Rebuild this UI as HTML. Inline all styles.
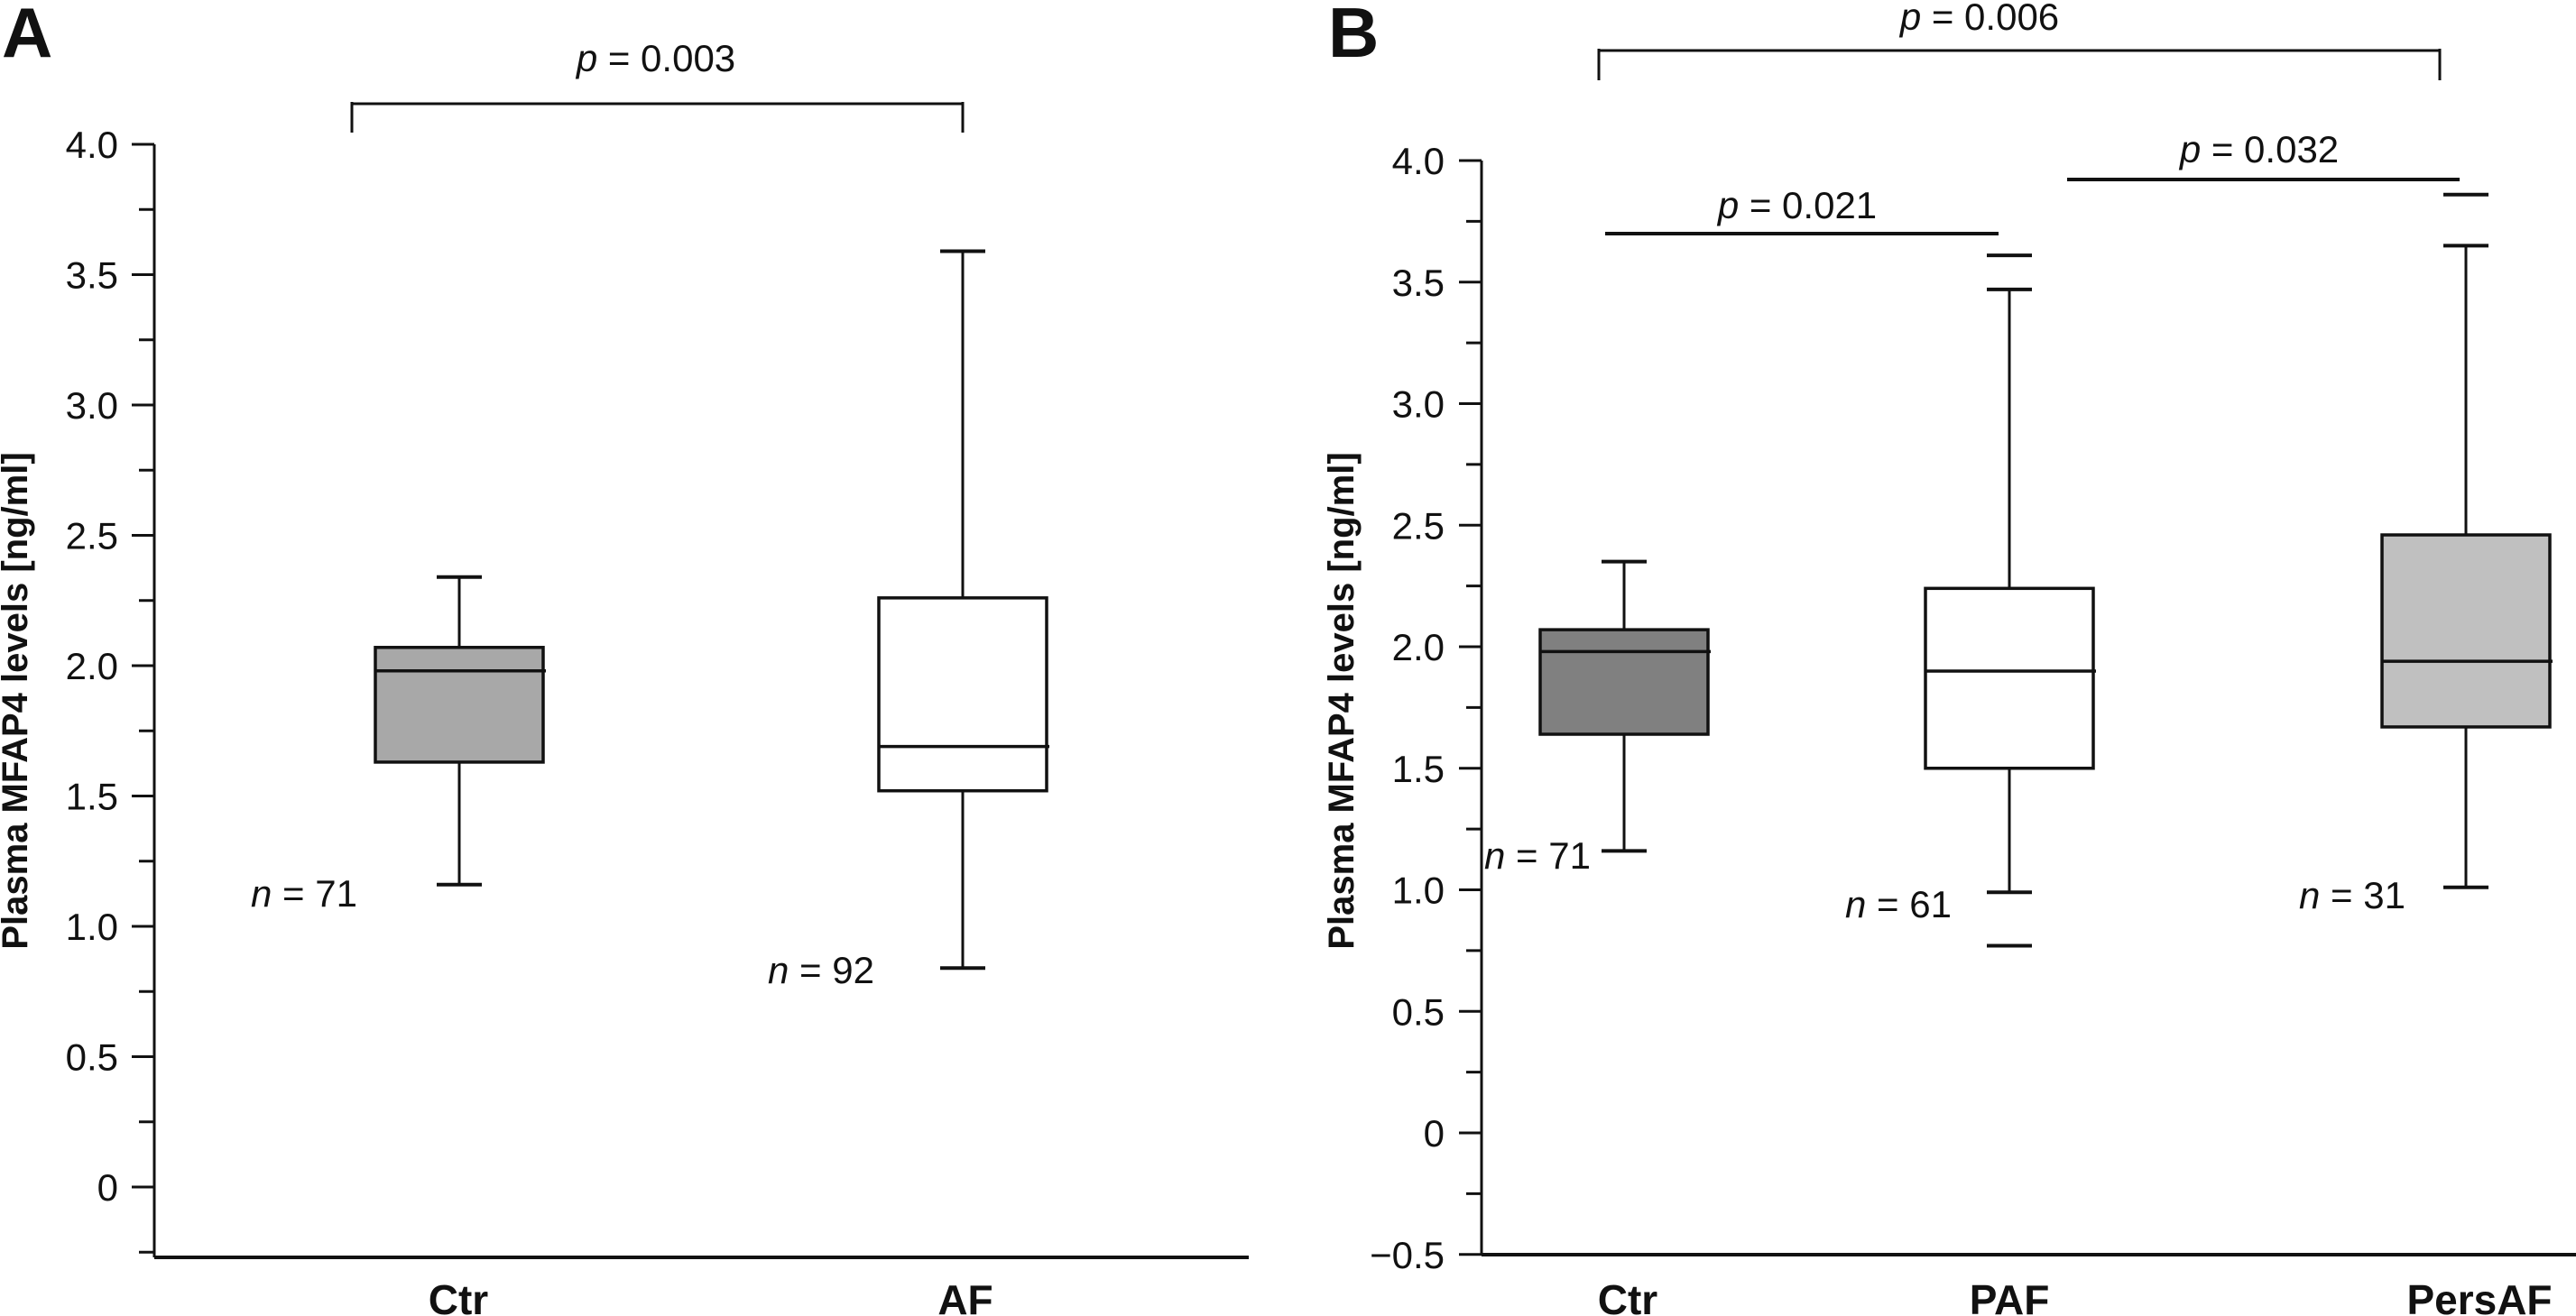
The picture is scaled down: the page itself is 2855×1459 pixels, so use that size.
<!DOCTYPE html>
<html><head><meta charset="utf-8"><style>
html,body{margin:0;padding:0;background:#fff}
svg{display:block}
text{font-family:"Liberation Sans",sans-serif;fill:#111}
</style></head><body>
<svg id="c" width="2855" height="1459" viewBox="0 0 2855 1459" xmlns="http://www.w3.org/2000/svg"></svg>
<script>
const catsA=["Ctr","AF"];
const minA=[1.16,0.84];
const q1A=[1.63,1.52];
const medA=[1.98,1.69];
const q3A=[2.07,2.26];
const maxA=[2.34,3.59];
const nA=["71","92"];
const fillA=["#a8a8a8","#ffffff"];
const catsB=["Ctr","PAF","PersAF"];
const minB=[1.16,0.99,1.01];
const q1B=[1.64,1.50,1.67];
const medB=[1.98,1.90,1.94];
const q3B=[2.07,2.24,2.46];
const maxB=[2.35,3.47,3.65];
const outB=[[],[0.77,3.61],[3.86]];
const nB=["71","61","31"];
const fillB=["#808080","#ffffff","#c0c0c0"];
const ticksA=[0,0.5,1.0,1.5,2.0,2.5,3.0,3.5,4.0];
const ticksB=[-0.5,0,0.5,1.0,1.5,2.0,2.5,3.0,3.5,4.0];

const svg=document.getElementById('c');
const NS="http://www.w3.org/2000/svg";
function el(t,a,name,txt){const e=document.createElementNS(NS,t);for(const k in a)e.setAttribute(k,a[k]);


if(txt!==undefined)e.textContent=txt;svg.appendChild(e);return e;}
function line(x1,y1,x2,y2,name,w){return el('line',{x1,y1,x2,y2,stroke:'#111','stroke-width':w||3},name);}
function ptext(x,y,val,name,anchor){const t=el('text',{x,y,'font-size':42,'text-anchor':anchor||'middle'},name);
const i=document.createElementNS(NS,'tspan');i.setAttribute('font-style','italic');i.textContent=val[0];t.appendChild(i);
t.appendChild(document.createTextNode(' = '+val[1]));return t;}

function panel(o){
  const y=v=>o.y0-v*o.ppu;
  line(o.ax,o.yb,o.ax,y(4.0),'y-axis-'+o.id);
  line(o.ax,o.yb,o.xend,o.yb,'x-axis-'+o.id,4);
  for(let k=0;k<=40;k++){
    const v=4.0-k*0.25; if(y(v)>o.yb+1)break;
    const maj=k%2===0;
    line(o.ax-(maj?25:17),y(v),o.ax,y(v),'y-tick-'+o.id);
  }
  o.ticks.forEach(v=>{el('text',{x:o.tx,y:y(v)+15,'font-size':42,'text-anchor':'end'},'y-tick-label-'+o.id,
    v===0?'0':(v<0?'\u2212':'')+Math.abs(v).toFixed(1));});
  el('text',{x:0,y:0,'font-size':40,'font-weight':'bold','text-anchor':'middle',transform:`translate(${o.titleX},${o.titleY}) rotate(-90)`},'y-axis-title-'+o.id,'Plasma MFAP4 levels [ng/ml]');
  el('text',{x:o.lx,y:63,'font-size':78,'font-weight':'bold'},'panel-label-'+o.id,o.label);
  o.cats.forEach((c,i)=>{
    const cx=o.cx[i],hw=o.hw;
    line(cx,y(o.min[i]),cx,y(o.max[i]),'whisker-'+o.id+'-'+c);
    line(cx-25,y(o.min[i]),cx+25,y(o.min[i]),'whisker-cap-low-'+c,4);
    line(cx-25,y(o.max[i]),cx+25,y(o.max[i]),'whisker-cap-high-'+c,4);
    (o.out[i]||[]).forEach(v=>line(cx-25,y(v),cx+25,y(v),'outlier-cap-'+c,4));
    el('rect',{x:cx-hw,y:y(o.q3[i]),width:2*hw,height:y(o.q1[i])-y(o.q3[i]),fill:o.fill[i],stroke:'#111','stroke-width':3.5},'box-'+o.id+'-'+c);
    line(cx-hw,y(o.med[i]),cx+hw+3,y(o.med[i]),'median-'+c,3.5);
    el('text',{x:o.lxs[i],y:1457,'font-size':46,'font-weight':'bold','text-anchor':'middle'},'x-label-'+c,c);
    ptext(o.nx[i],o.ny[i],['n',o.n[i]],'n-label-'+c,'start');
  });
}
panel({id:'a',ax:171,y0:1316,ppu:289,yb:1394,xend:1384,tx:131,ticks:ticksA,titleX:30,titleY:777,lx:2,label:'A',
  cats:catsA,cx:[509,1067],lxs:[508,1070],hw:93,min:minA,q1:q1A,med:medA,q3:q3A,max:maxA,out:[],fill:fillA,n:nA,nx:[278,851],ny:[1005,1090]});
panel({id:'b',ax:1642,y0:1256,ppu:269.5,yb:1391,xend:2855,tx:1601,ticks:ticksB,titleX:1500,titleY:777,lx:1472,label:'B',
  cats:catsB,cx:[1800,2227,2733],lxs:[1804,2227,2748],hw:93,min:minB,q1:q1B,med:medB,q3:q3B,max:maxB,out:outB,fill:fillB,n:nB,nx:[1645,2045,2548],ny:[963,1017,1007]});
// brackets
line(390,115,1067,115,'bracket-a');line(390,113,390,147,'bracket-a-left');line(1067,113,1067,147,'bracket-a-right');
ptext(727,79,['p','0.003'],'p-value-a');
line(1772,56,2704,56,'bracket-b');line(1772,54,1772,89,'bracket-b-left');line(2704,54,2704,89,'bracket-b-right');
ptext(2194,33,['p','0.006'],'p-value-ctr-persaf');
line(1779,259,2215,259,'bar-ctr-paf',4);ptext(1992,242,['p','0.021'],'p-value-ctr-paf');
line(2291,199,2726,199,'bar-paf-persaf',4);ptext(2504,180,['p','0.032'],'p-value-paf-persaf');
</script>
</body></html>
